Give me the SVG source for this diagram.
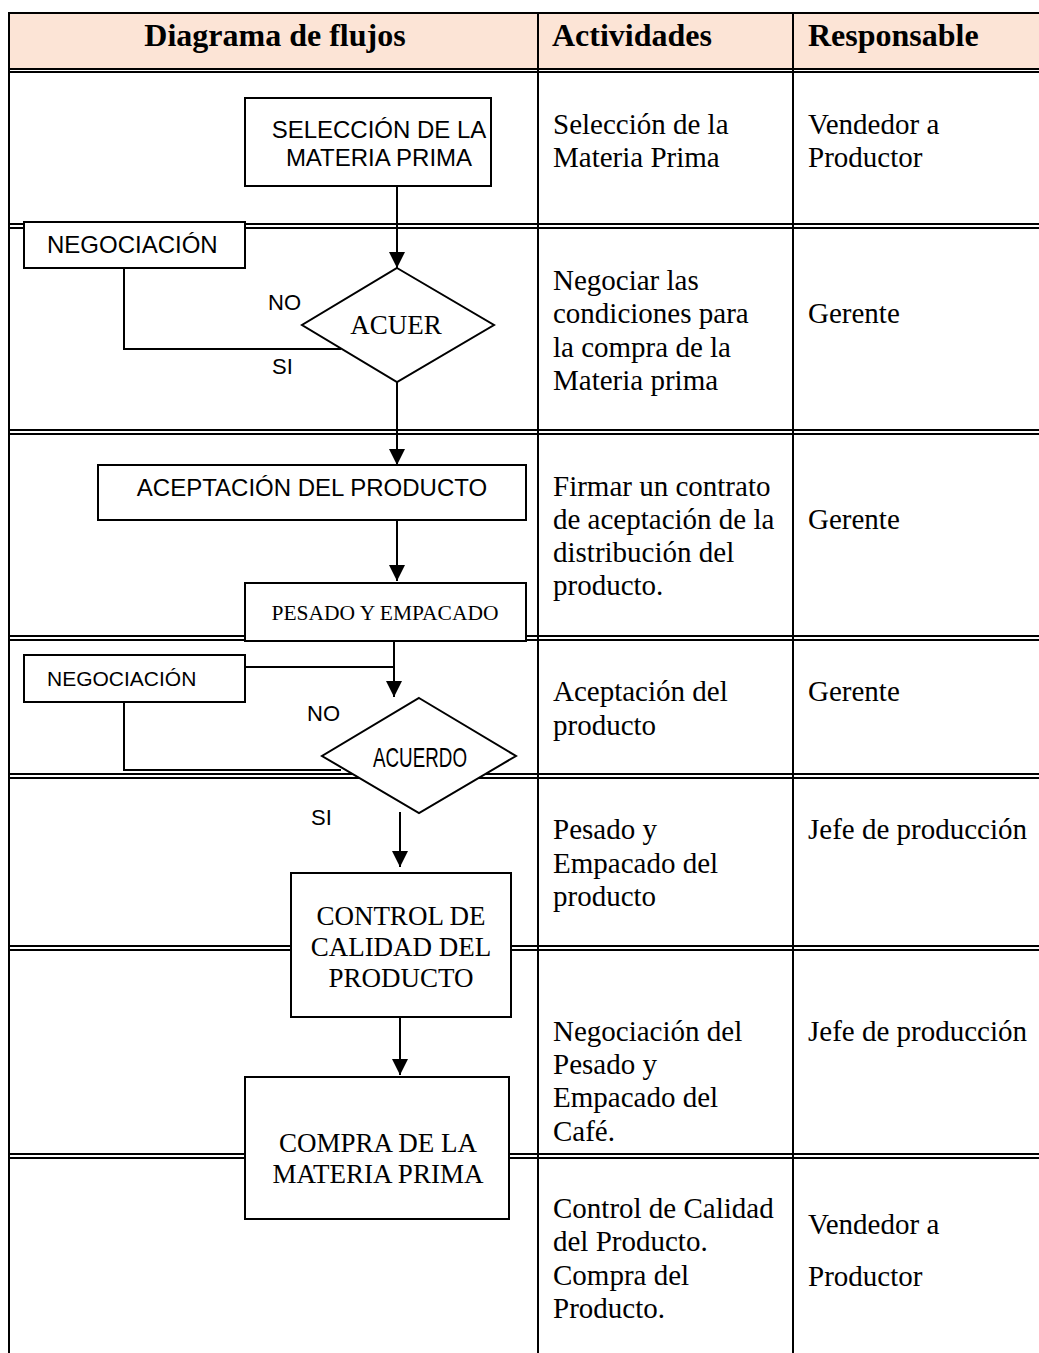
<svg xmlns="http://www.w3.org/2000/svg" width="1039" height="1353" viewBox="0 0 1039 1353">
<style>
.tl{stroke:#000;stroke-width:2;fill:none}
.box{fill:#fff;stroke:#000;stroke-width:2}
.cn{stroke:#000;stroke-width:2;fill:none}
.hd{font-family:"Liberation Serif","Times New Roman",serif;font-weight:bold;font-size:32px;fill:#000}
.tx{font-family:"Liberation Serif","Times New Roman",serif;font-size:29px;fill:#000}
.sa{font-family:"Liberation Sans",Arial,sans-serif;font-size:24px;fill:#000}
.lb{font-family:"Liberation Sans",Arial,sans-serif;font-size:22px;fill:#000}
.sb{font-family:"Liberation Serif","Times New Roman",serif;font-size:27px;fill:#000}
</style>
<defs>
<marker id="arr" viewBox="0 0 16 16" refX="16" refY="8" markerWidth="16" markerHeight="16" markerUnits="userSpaceOnUse" orient="auto">
<path d="M0,0 L16,8 L0,16 z" fill="#000"/>
</marker>
</defs>
<rect width="1039" height="1353" fill="#fff"/>
<g id="table">
<rect x="9" y="13" width="1040" height="56" fill="#FCE4D6" stroke="#000" stroke-width="2"/>
<line class="tl" x1="9" y1="13" x2="9" y2="1353"/>
<line class="tl" x1="538" y1="13" x2="538" y2="1353"/>
<line class="tl" x1="793" y1="13" x2="793" y2="1353"/>
<line class="tl" x1="9" y1="72" x2="1039" y2="72"/>
<line class="tl" x1="9" y1="224" x2="1039" y2="224"/>
<line class="tl" x1="9" y1="228" x2="1039" y2="228"/>
<line class="tl" x1="9" y1="430" x2="1039" y2="430"/>
<line class="tl" x1="9" y1="434" x2="1039" y2="434"/>
<line class="tl" x1="9" y1="636" x2="1039" y2="636"/>
<line class="tl" x1="9" y1="640" x2="1039" y2="640"/>
<line class="tl" x1="9" y1="774" x2="1039" y2="774"/>
<line class="tl" x1="9" y1="778" x2="1039" y2="778"/>
<line class="tl" x1="9" y1="946" x2="1039" y2="946"/>
<line class="tl" x1="9" y1="950" x2="1039" y2="950"/>
<line class="tl" x1="9" y1="1154" x2="1039" y2="1154"/>
<line class="tl" x1="9" y1="1158" x2="1039" y2="1158"/>
<text class="hd" x="275" y="46" text-anchor="middle">Diagrama de flujos</text>
<text class="hd" x="552" y="46">Actividades</text>
<text class="hd" x="808" y="46">Responsable</text>
<text class="tx" x="553" y="134">Selección de la</text>
<text class="tx" x="553" y="167">Materia Prima</text>
<text class="tx" x="808" y="134">Vendedor a</text>
<text class="tx" x="808" y="167">Productor</text>
<text class="tx" x="553" y="290">Negociar las</text>
<text class="tx" x="553" y="323">condiciones para</text>
<text class="tx" x="553" y="357">la compra de la</text>
<text class="tx" x="553" y="390">Materia prima</text>
<text class="tx" x="808" y="323">Gerente</text>
<text class="tx" x="553" y="496">Firmar un contrato</text>
<text class="tx" x="553" y="529">de aceptación de la</text>
<text class="tx" x="553" y="562">distribución del</text>
<text class="tx" x="553" y="595">producto.</text>
<text class="tx" x="808" y="529">Gerente</text>
<text class="tx" x="553" y="701">Aceptación del</text>
<text class="tx" x="553" y="735">producto</text>
<text class="tx" x="808" y="701">Gerente</text>
<text class="tx" x="553" y="839">Pesado y</text>
<text class="tx" x="553" y="873">Empacado del</text>
<text class="tx" x="553" y="906">producto</text>
<text class="tx" x="808" y="839">Jefe de producción</text>
<text class="tx" x="553" y="1041">Negociación del</text>
<text class="tx" x="553" y="1074">Pesado y</text>
<text class="tx" x="553" y="1107">Empacado del</text>
<text class="tx" x="553" y="1141">Café.</text>
<text class="tx" x="808" y="1041">Jefe de producción</text>
<text class="tx" x="553" y="1218">Control de Calidad</text>
<text class="tx" x="553" y="1251">del Producto.</text>
<text class="tx" x="553" y="1285">Compra del</text>
<text class="tx" x="553" y="1318">Producto.</text>
<text class="tx" x="808" y="1234">Vendedor a</text>
<text class="tx" x="808" y="1286">Productor</text>
</g>
<g id="connectors">
<line class="cn" x1="397" y1="186" x2="397" y2="268" marker-end="url(#arr)"/>
<polyline class="cn" points="124,268 124,349 341,349"/>
<line class="cn" x1="397" y1="382" x2="397" y2="465" marker-end="url(#arr)"/>
<line class="cn" x1="397" y1="520" x2="397" y2="581" marker-end="url(#arr)"/>
<polyline class="cn" points="245,667 394,667"/>
<line class="cn" x1="394" y1="641" x2="394" y2="697" marker-end="url(#arr)"/>
<polyline class="cn" points="124,702 124,770 341,770"/>
<line class="cn" x1="400" y1="812" x2="400" y2="867" marker-end="url(#arr)"/>
<line class="cn" x1="400" y1="1017" x2="400" y2="1075" marker-end="url(#arr)"/>
<text class="lb" x="268" y="310">NO</text>
<text class="lb" x="272" y="374">SI</text>
<text class="lb" x="307" y="721">NO</text>
<text class="lb" x="311" y="825">SI</text>
</g>
<g id="n1"><rect class="box" x="245" y="98" width="246" height="88"/>
<text class="sa" x="379" y="138" text-anchor="middle">SELECCIÓN DE LA</text>
<text class="sa" x="379" y="166" text-anchor="middle">MATERIA PRIMA</text></g>
<g id="n2"><rect class="box" x="24" y="222" width="221" height="46"/>
<text class="sa" x="47" y="253">NEGOCIACIÓN</text></g>
<g id="n3"><polygon class="box" points="397,268 494,325 397,382 302,325"/>
<text class="sb" x="396" y="334" text-anchor="middle">ACUER</text></g>
<g id="n4"><rect class="box" x="98" y="465" width="428" height="55"/>
<text class="sa" x="312" y="496" text-anchor="middle">ACEPTACIÓN DEL PRODUCTO</text></g>
<g id="n5"><rect class="box" x="245" y="583" width="281" height="58"/>
<text class="sb" x="385" y="620" text-anchor="middle" style="font-size:21.5px">PESADO Y EMPACADO</text></g>
<g id="n6"><rect class="box" x="24" y="655" width="221" height="47"/>
<text class="sa" x="47" y="686" style="font-size:21px">NEGOCIACIÓN</text></g>
<g id="n7"><polygon class="box" points="419,698 516,756 419,813 322,756"/>
<text x="420" y="767" text-anchor="middle" textLength="94" lengthAdjust="spacingAndGlyphs" style="font-family:'Liberation Sans',Arial,sans-serif;font-size:28px">ACUERDO</text></g>
<g id="n8"><rect class="box" x="291" y="873" width="220" height="144"/>
<text class="sb" x="401" y="925" text-anchor="middle">CONTROL DE</text>
<text class="sb" x="401" y="956" text-anchor="middle">CALIDAD DEL</text>
<text class="sb" x="401" y="987" text-anchor="middle">PRODUCTO</text></g>
<g id="n9"><rect class="box" x="245" y="1077" width="264" height="142"/>
<text class="sb" x="378" y="1152" text-anchor="middle">COMPRA DE LA</text>
<text class="sb" x="378" y="1183" text-anchor="middle">MATERIA PRIMA</text></g>
</svg>
